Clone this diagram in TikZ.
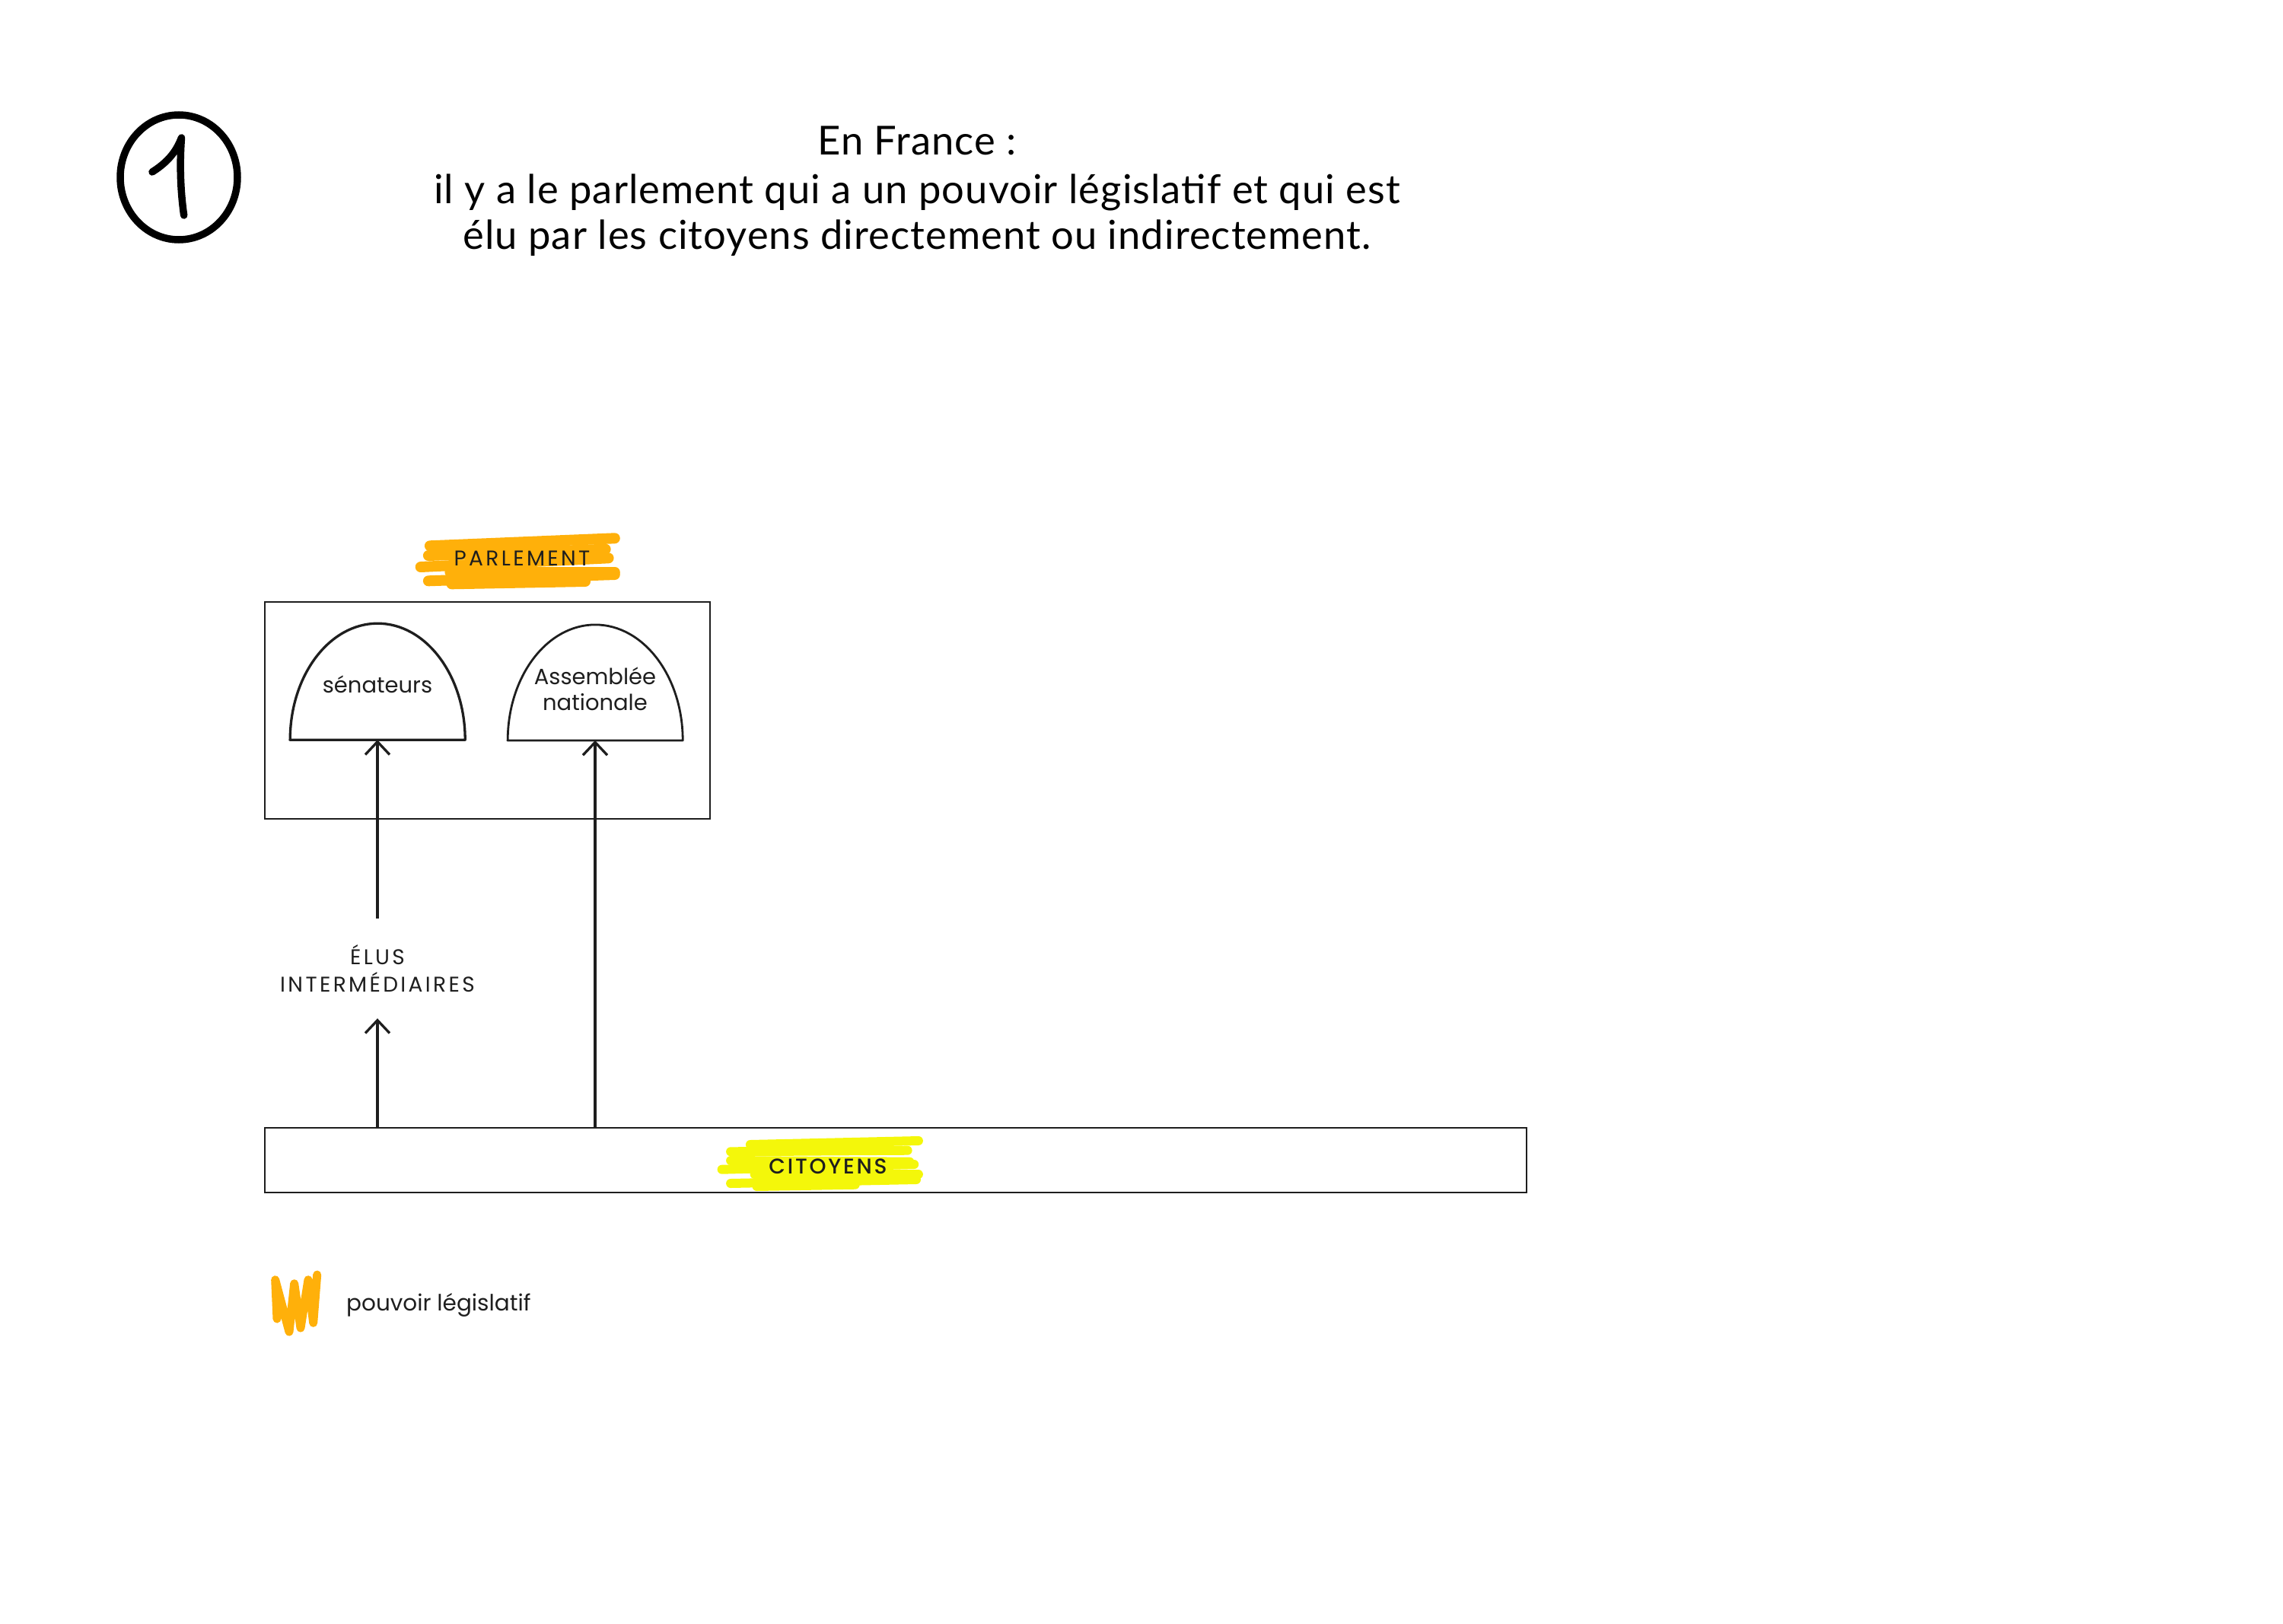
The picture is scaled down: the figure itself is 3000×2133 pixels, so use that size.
\documentclass[tikz,border=0pt]{standalone}
\usepackage{fontspec}
\setmainfont{Lato}[LetterSpace=2]
\newfontfamily\lab{Poppins}
\newfontfamily\labcaps{Poppins}[LetterSpace=12]
\newfontfamily\labmed{Poppins Medium}[LetterSpace=10]
\usetikzlibrary{arrows.meta}
\definecolor{ink}{HTML}{1E1E1E}
\definecolor{hlorange}{HTML}{FFB00A}
\definecolor{hlyellow}{HTML}{F4F70A}
\begin{document}
\begin{tikzpicture}[x=1pt,y=-1pt,
  lbl/.style={font=\lab\fontsize{29}{34}\selectfont, text=ink, inner sep=0pt},
  caps/.style={font=\labcaps\fontsize{28}{36}\selectfont, text=ink, inner sep=0pt},
  ttl/.style={font=\fontsize{52.5}{60}\selectfont, inner sep=0pt, anchor=base},
  frame/.style={draw=ink, line width=2pt, inner sep=0pt},
  dome/.style={draw=ink, line width=3.3pt, line join=round},
  hl/.style={line width=14pt, line cap=round},
  arr/.style={draw=ink, line width=3.3pt, -{Straight Barb[length=17pt,width=32pt]}},
]
\useasboundingbox (0,0) rectangle (3000,2133);

% circled number
\draw[line width=9.5pt] (235,233) ellipse[x radius=77pt,y radius=82pt];
\draw[line width=9.5pt, line cap=round, line join=round]
  (200,226) .. controls (222,212) and (232,198) .. (238.5,181)
  .. controls (236,215) and (237,250) .. (241.7,283);

% title
\node[ttl] (t1) at (1205,203) {En France :};
\node[ttl] (t2) at (1205,267) {il y a le parlement qui a un pouvoir législatif et qui est};
\node[ttl] (t3) at (1205,327) {élu par les citoyens directement ou indirectement.};

% parlement highlight
\begin{scope}[hl, draw=hlorange]
\draw (564.9,717.3) -- (807.8,707.3);
\draw (562.9,730) -- (795.7,721.7);
\draw (552.7,745) -- (799.6,733.3);
\draw (591.4,751.7) -- (807.8,751.7);
\draw (562.9,763.3) -- (807.8,755);
\draw (593.5,767.3) -- (769,764);
\end{scope}
\node[caps, anchor=base] (parlt) at (686,743) {PARLEMENT};

% boxes
\node[frame, minimum width=585pt, minimum height=285pt] (parl) at (640.5,933.5) {};
\node[frame, minimum width=1658pt, minimum height=85pt] (cit) at (1177,1524.5) {};

% domes
\node[inner sep=0pt, minimum width=230pt, minimum height=153pt] (sen) at (496,895.5) {};
\node[inner sep=0pt, minimum width=230pt, minimum height=152pt] (an) at (782,896.7) {};
\draw[dome] (sen.south west) -- (sen.south east) arc[start angle=0,end angle=180,x radius=115pt,y radius=153pt] -- cycle;
\draw[dome, line width=2.8pt] (an.south west) -- (an.south east) arc[start angle=0,end angle=180,x radius=115pt,y radius=152pt] -- cycle;
\node[lbl, anchor=base] (sent) at (496,910) {sénateurs};
\node[lbl, align=center] (ant) at (782,905) {Assemblée\\nationale};

% elus intermediaires
\node[caps, align=center, minimum height=131pt] (elus) at (496,1272.5) {ÉLUS\\INTERMÉDIAIRES};

% arrows
\draw[arr] (elus.north) -- (sen.south);
\draw[arr] (cit.north -| elus.south) -- (elus.south);
\draw[arr] (cit.north -| an.south) -- (an.south);

% citoyens highlight
\begin{scope}[hl, line width=12pt, draw=hlyellow]
\draw (985.9,1504) -- (1206.9,1499);
\draw (960.1,1513.3) -- (1192.6,1511.7);
\draw (960.1,1525) -- (1195.4,1526.7);
\draw (948.6,1536.7) -- (1201.2,1530);
\draw (991.6,1543.3) -- (1206.9,1543.3);
\draw (960.1,1555) -- (1204,1550);
\draw (994.5,1559) -- (1123.7,1556.7);
\end{scope}
\node[lbl, font=\labmed\fontsize{28}{34}\selectfont, anchor=base] (citt) at (1088,1542) {CITOYENS};

% legend
\draw[hlorange, line width=11pt, line cap=round, line join=round]
  (364,1733) -- (361.7,1681.7) -- (380,1750) -- (386.7,1686.7) -- (395,1745)
  -- (405,1681.7) -- (411.7,1738.3) -- (416.7,1675);
\node[lbl, font=\lab\fontsize{29.5}{34}\selectfont, anchor=base west] (leg) at (455,1722) {pouvoir législatif};
\end{tikzpicture}
\end{document}
